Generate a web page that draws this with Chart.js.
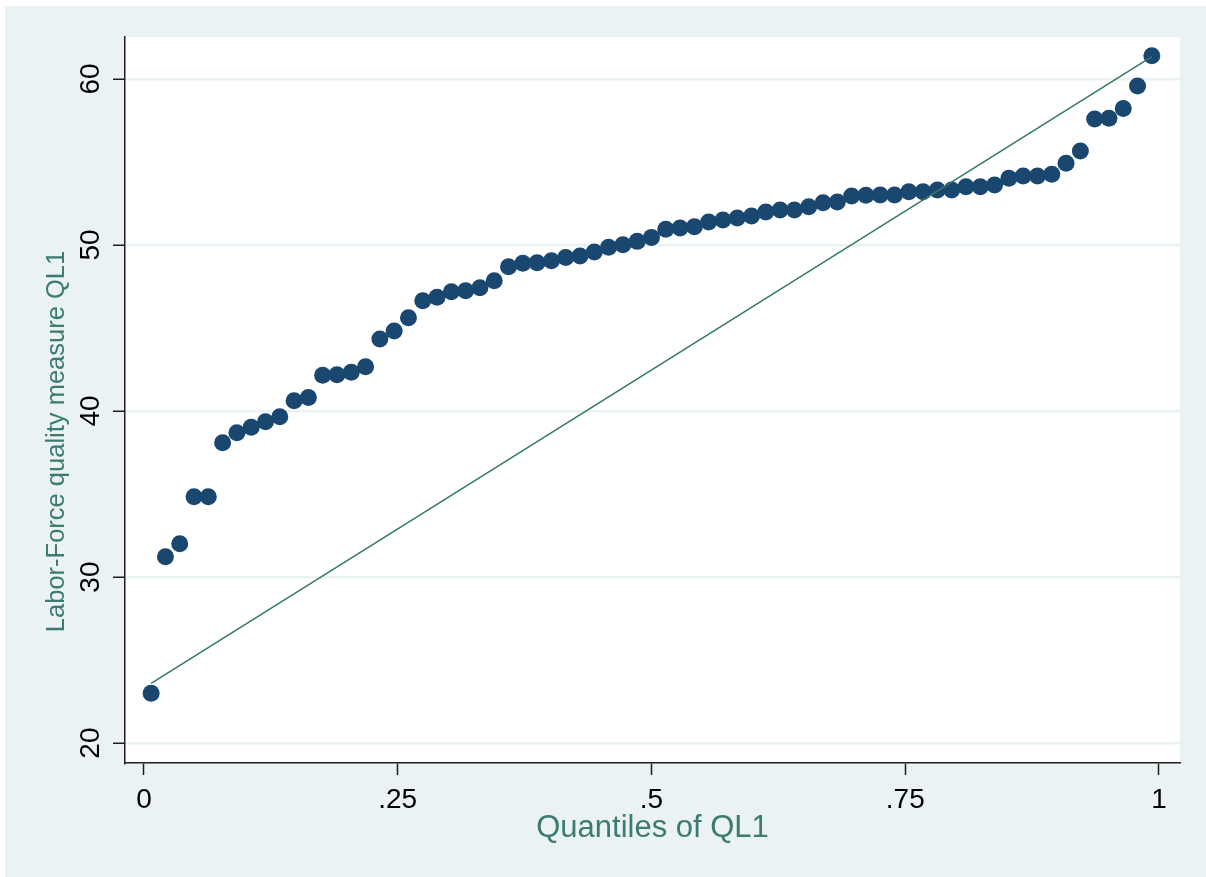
<!DOCTYPE html>
<html>
<head>
<meta charset="utf-8">
<title>Quantiles of QL1</title>
<script src="https://cdn.jsdelivr.net/npm/chart.js@4.4.1/dist/chart.umd.min.js"></script>
<style>
  html, body { margin: 0; padding: 0; background: #ffffff; }
  #wrap { position: absolute; left: 0; top: 0; width: 1206px; height: 877px; }
</style>
</head>
<body>
<div id="wrap"><canvas id="qplot" width="1206" height="877"></canvas></div>
<script>
// Ordered values of QL1 (labor-force quality measure), one per observation
const ql1Sorted = [
  23.0, 31.22, 32.0, 34.84, 34.84, 38.09, 38.69, 39.02, 39.36, 39.66,
  40.62, 40.82, 42.15, 42.19, 42.33, 42.67, 44.34, 44.82, 45.62, 46.64,
  46.85, 47.19, 47.25, 47.43, 47.85, 48.69, 48.90, 48.93, 49.05, 49.25,
  49.34, 49.58, 49.86, 50.02, 50.22, 50.46, 50.95, 51.02, 51.10, 51.39,
  51.51, 51.63, 51.75, 51.99, 52.11, 52.11, 52.31, 52.55, 52.59, 52.95,
  53.00, 53.01, 53.01, 53.21, 53.21, 53.31, 53.31, 53.51, 53.51, 53.61,
  54.02, 54.16, 54.16, 54.26, 54.92, 55.66, 57.59, 57.63, 58.23, 59.58,
  61.40
];

// Reference line end values (at the first and last plotting positions)
const refLineValues = [23.6, 61.35];

// Axis ticks
const xTickValues = [0, 0.25, 0.5, 0.75, 1];
const xTickLabels = ['0', '.25', '.5', '.75', '1'];
const yTickValues = [20, 30, 40, 50, 60];

const xTitle = 'Quantiles of QL1';
const yTitle = 'Labor-Force quality measure QL1';

// Plotting position of the i-th ordered value: (i - 0.5) / n
const n = ql1Sorted.length;
const fractionOf = i => (i + 0.5) / n;

const pointData = ql1Sorted.map((v, i) => ({ x: fractionOf(i), y: v }));
const lineData = [
  { x: fractionOf(0), y: refLineValues[0] },
  { x: fractionOf(n - 1), y: refLineValues[1] }
];

const BG = '#eaf2f3';
const INK = '#1e1e1e';
const TITLE_COLOR = '#3b7b72';
const FONT = '"Liberation Sans", Arial, sans-serif';

// Graph region (light) and plot region (white)
const regions = {
  id: 'regions',
  beforeDraw(chart) {
    const { ctx, chartArea: a, width, height } = chart;
    ctx.save();
    ctx.fillStyle = '#ffffff';
    ctx.fillRect(0, 0, width, height);
    ctx.fillStyle = BG;
    ctx.fillRect(5, 6, width - 5, height - 6);
    ctx.fillStyle = '#ffffff';
    ctx.fillRect(a.left, a.top, a.right - a.left, a.bottom - a.top);
    ctx.restore();
  }
};

// Y-axis title, centred on the whole graph region rather than the plot area
const yAxisTitle = {
  id: 'yAxisTitle',
  afterDraw(chart) {
    const { ctx, height } = chart;
    ctx.save();
    ctx.translate(57, (6 + height) / 2);
    ctx.rotate(-Math.PI / 2);
    ctx.fillStyle = TITLE_COLOR;
    ctx.font = '25.5px ' + FONT;
    ctx.textAlign = 'center';
    ctx.textBaseline = 'middle';
    ctx.fillText(yTitle, 0, 0);
    ctx.restore();
  }
};

new Chart(document.getElementById('qplot'), {
  type: 'scatter',
  data: {
    datasets: [
      {
        type: 'line',
        label: 'reference',
        data: lineData,
        borderColor: '#367a68',
        borderWidth: 1.6,
        pointRadius: 0,
        fill: false,
        order: 0
      },
      {
        label: 'QL1',
        data: pointData,
        backgroundColor: '#1a476f',
        borderWidth: 0,
        pointRadius: 8.5,
        pointHoverRadius: 8.5,
        order: 1
      }
    ]
  },
  options: {
    responsive: false,
    animation: false,
    devicePixelRatio: 1,
    events: [],
    layout: { padding: { left: 6, right: 26, top: 37, bottom: 14 } },
    plugins: {
      legend: { display: false },
      tooltip: { enabled: false }
    },
    scales: {
      x: {
        type: 'linear',
        min: -0.0187,
        max: 1.0207,
        afterFit: s => { s.height = 100; },
        afterBuildTicks: s => { s.ticks = xTickValues.map(v => ({ value: v })); },
        border: { display: true, color: INK, width: 1.5 },
        grid: { drawOnChartArea: false, drawTicks: true, tickLength: 12, tickColor: INK, tickWidth: 1.5 },
        ticks: {
          color: '#000',
          font: { family: FONT, size: 28 },
          padding: 8,
          maxRotation: 0,
          autoSkip: false,
          callback: (v) => {
            const k = xTickValues.indexOf(v);
            return k >= 0 ? xTickLabels[k] : '';
          }
        },
        title: {
          display: true,
          text: xTitle,
          color: TITLE_COLOR,
          font: { family: FONT, size: 31 },
          padding: { top: 0, bottom: 16 }
        }
      },
      y: {
        type: 'linear',
        min: 18.8,
        max: 62.53,
        afterFit: s => { s.width = 119; },
        afterBuildTicks: s => { s.ticks = yTickValues.map(v => ({ value: v })); },
        border: { display: true, color: INK, width: 1.5 },
        grid: { color: BG, lineWidth: 2.5, drawTicks: true, tickLength: 12, tickColor: INK, tickWidth: 1.5 },
        ticks: {
          color: '#000',
          font: { family: FONT, size: 28 },
          padding: 6,
          minRotation: 90,
          maxRotation: 90,
          crossAlign: 'center',
          autoSkip: false,
          callback: v => String(v)
        },
        title: { display: false }
      }
    }
  },
  plugins: [regions, yAxisTitle]
});
</script>
</body>
</html>
